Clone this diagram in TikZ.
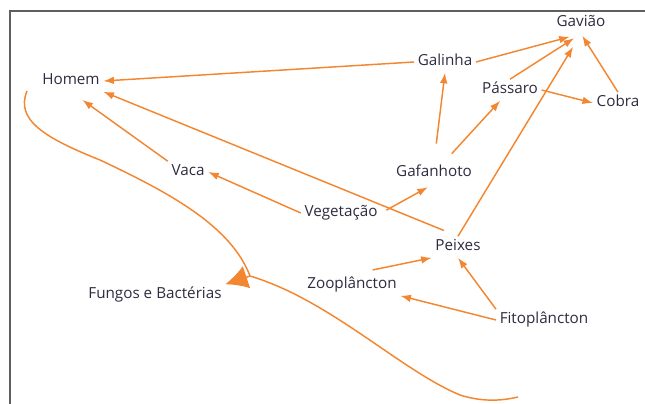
\documentclass[tikz,border=0pt]{standalone}
\usepackage{fontspec}
\setmainfont{Open Sans}
\usetikzlibrary{arrows.meta}
\definecolor{webflow}{RGB}{243,134,48}
\definecolor{webtext}{RGB}{44,44,64}
\definecolor{webframe}{RGB}{95,95,95}

\begin{document}
\begin{tikzpicture}[
  x=0.03cm, y=-0.03cm,
  org/.style={text=webtext, font=\fontsize{13}{15}\selectfont,
              inner sep=3pt, text height=9pt, text depth=3pt},
  arr/.style={-{Latex[length=9pt, width=6.5pt]}, webflow, line width=1.25pt},
  decay/.style={webflow, line width=1.25pt},
]
  \useasboundingbox (0,0) rectangle (645,404);
  \draw[webframe, line width=1.6pt] (10,404) -- (10,11) -- (645,11);

  \node[org] (gav) at (581,23)  {Gavião};
  \node[org] (gal) at (445,62)  {Galinha};
  \node[org] (hom) at (71,81)   {Homem};
  \node[org] (pas) at (510,90)  {Pássaro};
  \node[org] (cob) at (618,103) {Cobra};
  \node[org] (vac) at (188,172) {Vaca};
  \node[org] (gaf) at (434,173) {Gafanhoto};
  \node[org] (veg) at (341,213) {Vegetação};
  \node[org] (pei) at (458,247) {Peixes};
  \node[org] (zoo) at (352,285) {Zooplâncton};
  \node[org] (fun) at (155,295) {Fungos e Bactérias};
  \node[org] (fit) at (544,320) {Fitoplâncton};

  \foreach \a/\b in {gal.west/hom.east, pas.east/cob.west, veg.west/vac.east,
                     fit.west/zoo.south east, fit.north west/pei.south} {
    \draw[arr] (\a) -- (\b);
  }

  % everything that ends under the hawk
  \foreach \a/\s in {gal.east/10pt, pas.north/7pt, pei.north/13pt, cob.north/2pt} {
    \draw[arr, shorten >=\s] (\a) -- (gav.south);
  }

  \draw[arr, shorten <=16pt] (gaf.north) -- (gal.south);
  \draw[arr, shorten <=10pt] (gaf) -- (pas);
  \draw[arr, shorten <=5pt, shorten >=6pt] (veg.east) -- (gaf.south);
  \draw[arr, shorten >=12pt] (vac.north west) -- (hom.south);
  \draw[arr, shorten <=13pt] (pei.north) -- (hom.south east);
  \draw[arr, shorten <=18pt] (zoo.north) -- (pei.south west);

  % decomposers
  \coordinate (dtop) at (27,91);
  \coordinate (dbot) at (518,397);
  \coordinate (junc) at (250,276);
  \draw[decay] (dtop) .. controls (15,120) and (45,138) .. (100,160)
    .. controls (170,193) and (231,226) .. (junc);
  \draw[decay] (dbot) .. controls (505,400) and (485,403) .. (460,395)
    .. controls (400,370) and (330,300) .. (junc);
  \draw[decay, -{Latex[length=19pt, width=20pt]}] (junc) -- (fun.north east);
\end{tikzpicture}
\end{document}
